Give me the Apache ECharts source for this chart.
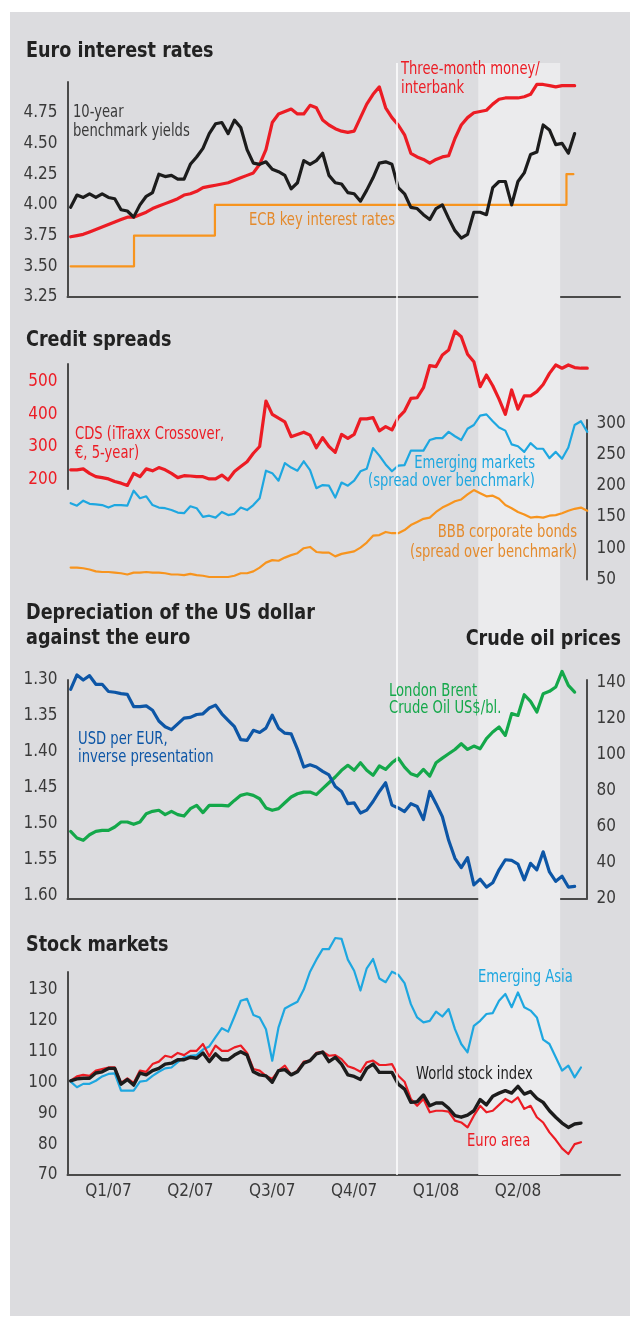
<!DOCTYPE html>
<html><head><meta charset="utf-8">
<script src="https://cdn.jsdelivr.net/npm/echarts@6/dist/echarts.min.js"></script>
<style>
html,body{margin:0;padding:0;background:#fff;}
#bg{position:absolute;left:10px;top:12px;width:620px;height:1304px;background:#dcdcdf;}
#chart{position:absolute;left:0;top:0;width:633px;height:1323px;}
</style></head><body>
<div id="bg"></div><div id="chart"></div>
<script>
// ---------- DATA (weekly, first point = week 0.5 of 2007) ----------
const quarterLabels = ['Q1/07','Q2/07','Q3/07','Q4/07','Q1/08','Q2/08'];
const yearBoundaryWeek = 52.2;
const bandStartWeek = 65.2, bandEndWeek = 78.2;

const rateTicks = [3.25,3.5,3.75,4.0,4.25,4.5,4.75];
const tenYearYield = [3.98,4.08,4.06,4.09,4.06,4.09,4.06,4.05,3.96,3.95,3.90,4.00,4.07,4.10,4.25,4.23,4.24,4.21,4.21,4.33,4.39,4.46,4.58,4.66,4.67,4.58,4.69,4.63,4.45,4.34,4.33,4.35,4.29,4.27,4.24,4.13,4.18,4.36,4.33,4.36,4.42,4.24,4.18,4.17,4.10,4.09,4.03,4.12,4.22,4.34,4.35,4.33,4.14,4.09,3.98,3.97,3.92,3.88,3.97,4.00,3.89,3.79,3.73,3.76,3.94,3.94,3.92,4.14,4.19,4.19,4.00,4.19,4.26,4.41,4.43,4.65,4.61,4.49,4.50,4.42,4.58];
const threeMonth = [3.74,3.75,3.76,3.78,3.80,3.82,3.84,3.86,3.88,3.90,3.90,3.92,3.94,3.97,3.99,4.01,4.03,4.05,4.08,4.09,4.11,4.14,4.15,4.16,4.17,4.18,4.20,4.22,4.24,4.26,4.33,4.45,4.67,4.74,4.76,4.78,4.74,4.74,4.81,4.79,4.69,4.65,4.62,4.60,4.59,4.60,4.71,4.82,4.90,4.96,4.79,4.71,4.65,4.57,4.42,4.39,4.37,4.34,4.37,4.39,4.40,4.54,4.65,4.71,4.75,4.76,4.77,4.82,4.86,4.87,4.87,4.87,4.88,4.90,4.98,4.98,4.97,4.96,4.97,4.97,4.97];
const ecbWeeks = [0.5,10.56,23.4,79.2,80.3];
const ecbRates = [3.50,3.75,4.00,4.25,4.25];

const cdsTicks = [200,300,400,500];
const spreadTicks = [50,100,150,200,250,300];
const cdsCrossover = [229,229,232,218,208,205,201,193,188,181,218,208,232,226,236,229,218,205,211,210,208,208,201,201,213,198,224,239,254,280,301,441,400,388,377,331,338,345,336,297,328,301,283,338,326,338,386,386,390,349,362,352,390,410,449,451,482,550,547,583,598,656,639,585,562,485,521,488,447,400,475,416,457,457,470,492,526,552,542,552,544,542,542];
const emergingSpread = [172,168,176,171,170,169,165,169,169,168,192,180,183,169,165,164,161,157,156,167,164,150,152,149,158,153,155,165,161,169,180,224,220,208,236,229,224,239,225,196,201,200,181,205,200,208,223,227,260,248,234,223,232,233,256,256,256,273,276,276,286,279,273,291,297,312,314,303,293,288,266,263,254,268,259,259,244,254,243,261,297,303,286];
const bbbSpread = [69,69,68,66,63,62,62,61,60,58,61,61,62,61,61,60,58,58,57,59,57,56,54,54,54,54,56,60,60,63,69,77,81,80,85,89,92,100,102,94,93,93,87,91,93,95,101,109,120,121,126,124,124,129,137,142,147,149,158,165,170,175,178,186,193,188,183,184,179,169,164,158,154,149,150,149,152,153,156,160,163,165,160];

const usdTicks = [1.30,1.35,1.40,1.45,1.50,1.55,1.60];
const oilTicks = [20,40,60,80,100,120,140];
const usdPerEur = [1.313,1.293,1.300,1.294,1.306,1.306,1.316,1.317,1.319,1.320,1.337,1.337,1.336,1.342,1.357,1.365,1.369,1.361,1.353,1.352,1.348,1.347,1.339,1.335,1.347,1.356,1.365,1.383,1.384,1.370,1.373,1.367,1.349,1.367,1.374,1.375,1.396,1.421,1.418,1.421,1.427,1.432,1.448,1.455,1.472,1.471,1.485,1.481,1.469,1.455,1.443,1.474,1.478,1.483,1.472,1.476,1.494,1.455,1.472,1.490,1.523,1.548,1.561,1.547,1.585,1.577,1.588,1.582,1.564,1.550,1.551,1.556,1.578,1.555,1.564,1.539,1.567,1.580,1.573,1.588,1.587];
const brentOil = [57.6,53.9,52.6,55.7,57.6,58.1,58.1,60.0,62.8,62.8,61.5,62.8,67.4,68.7,69.3,66.9,68.7,66.9,66.1,70.2,72.0,68.0,72.0,72.0,72.0,71.7,74.8,77.6,78.5,77.6,75.7,70.6,69.3,70.2,73.5,76.7,78.5,79.4,79.4,78.0,81.3,84.6,87.8,91.5,94.3,91.5,95.7,91.5,88.7,93.9,92.0,95.7,98.3,93.3,89.6,88.3,92.0,88.3,95.7,98.3,100.7,103.1,106.3,103.1,105.0,103.5,109.1,112.8,115.6,110.9,123.0,122.0,133.5,129.8,123.9,134.1,135.4,137.8,146.5,138.7,135.0];

const stockTicks = [70,80,90,100,110,120,130];
const worldStocks = [100.5,101.1,101.3,101.3,103.0,103.4,104.5,104.5,99.4,100.9,99.1,103.0,102.4,103.8,104.5,105.9,106.2,107.3,107.3,108.1,107.8,109.5,106.7,109.2,107.3,107.3,108.8,109.9,108.8,103.4,102.4,102.1,100.0,103.8,104.1,102.4,103.4,106.2,107.0,109.2,109.8,106.7,108.1,105.9,102.4,101.9,100.9,104.5,105.9,103.2,103.2,103.2,99.4,97.8,93.5,93.7,95.9,92.4,93.3,93.3,91.6,89.2,88.7,89.4,90.8,94.4,92.7,95.5,96.5,97.3,96.5,98.7,96.2,97.0,94.8,93.5,90.8,88.7,86.8,85.4,86.5,86.8];
const euroArea = [100.5,101.9,102.4,102.1,103.8,104.3,104.8,104.8,99.8,101.3,99.8,103.8,103.4,105.9,106.7,108.6,108.1,109.5,108.8,110.2,110.2,112.4,108.4,111.9,110.2,110.2,111.3,111.9,109.5,104.3,103.8,102.1,101.1,103.8,105.4,102.4,103.8,106.7,107.0,109.5,109.9,108.6,108.8,107.5,105.2,104.5,103.4,106.5,107.0,105.6,105.6,105.9,102.1,100.2,94.6,92.4,94.6,90.3,90.8,90.8,90.5,87.6,87.0,85.4,89.2,92.4,90.3,90.8,92.7,94.6,93.5,95.1,91.4,92.4,88.7,87.0,83.8,81.4,78.6,76.8,80.0,80.6];
const emergingAsia = [100.2,98.4,99.5,99.5,100.5,101.9,102.7,102.9,97.3,97.3,97.3,100.2,100.5,102.1,103.4,104.5,104.8,106.5,108.1,108.6,108.8,110.6,111.6,114.6,117.5,116.4,121.3,126.4,127.0,121.8,121.0,117.2,107.0,117.8,123.9,125.0,126.1,130.0,135.8,139.7,143.1,143.1,146.7,146.4,139.7,136.1,129.7,136.9,139.9,133.6,132.4,135.8,134.8,132.1,125.3,121.0,119.4,119.9,122.9,121.3,123.7,117.2,112.4,109.7,118.3,119.9,122.1,122.4,126.4,128.6,124.3,129.1,124.3,123.2,121.0,113.8,112.4,108.1,103.8,105.4,101.6,104.8];

// ---------- STYLE ----------
const FONT = "'Liberation Sans Narrow','DejaVu Sans Condensed','Arial Narrow',sans-serif";
const RED='#ec1c24', BLACK='#1c1c1c', ORANGE='#f7941e', CYAN='#1ea7e0', NAVY='#0d56a6', GREEN='#14a84a';
const AXIS='#4a4a4a', TXT='#3a3a3a', ORANGE_TXT='#e48a2c';
const X0 = 67.5, PXW = 6.3, WFULL = 552.5, WNARROW = 519;

const chart = echarts.init(document.getElementById('chart'), null, {renderer:'canvas'});

function grid(top, height, width){ return {left:X0, top, width, height, containLabel:false, outerBoundsMode:'none'}; }
function xAx(gi, width, showLine, labels){
  return {type:'value', gridIndex:gi, min:0, max:width/PXW,
    axisLine:{show:showLine, onZero:false, lineStyle:{color:AXIS,width:2}},
    axisTick:{show:false}, splitLine:{show:false},
    axisLabel: labels ? {show:true, customValues: quarterLabels.map((q,i)=>6.5+13*i),
      formatter:(v)=>quarterLabels[Math.round((v-6.5)/13)] || '', color:TXT, fontSize:17, fontFamily:FONT, margin:8}
      : {show:false}};
}
function yAx(gi, min, max, ticks, opts){
  opts = opts || {};
  return {type:'value', gridIndex:gi, min, max, inverse:!!opts.inverse, position:opts.position||'left',
    axisLine:{show:opts.line!==false, onZero:false, lineStyle:{color:AXIS,width:2}},
    axisTick:{show:false}, splitLine:{show:false},
    axisLabel:{show:!!ticks, customValues:ticks||[], formatter:(v)=> opts.dec!=null ? v.toFixed(opts.dec) : String(v),
      color:opts.color||TXT, fontSize:17, fontFamily:FONT, margin:opts.margin||10}};
}
function weekly(vals){ return vals.map((v,i)=>[i+0.5, v]); }
function line(xi, yi, data, color, width, z, extra){
  return Object.assign({type:'line', xAxisIndex:xi, yAxisIndex:yi, data, symbol:'none', clip:false, silent:true,
    animation:false, z:z||2, lineStyle:{color, width, join:'round', cap:'round'}}, extra||{});
}
function txt(x, y, text, color, size, weight, align, sx){
  return {type:'text', x, y, z:10, silent:true, scaleX: sx || 0.86, scaleY:1,
    style:{text, fill:color, font:`${weight||'normal'} ${size}px ${FONT}`,
      textAlign:align||'left', textVerticalAlign:'middle', align:align||'left', verticalAlign:'middle'}};
}
function title(x, y, text, align){ return txt(x, y, text, '#222', 22, 'bold', align, 0.89); }

const option = {
  animation:false,
  backgroundColor:'transparent',
  grid:[
    grid(63, 1112, WFULL),   // 0 background band
    grid(82, 215, WFULL),    // 1 euro rates
    grid(364, 125, WNARROW), // 2 CDS
    grid(420, 159.5, WNARROW), // 3 spreads right
    grid(680, 219, WNARROW), // 4 dollar/oil
    grid(972, 203, WFULL)    // 5 stocks
  ],
  xAxis:[
    xAx(0, WFULL, false, false),
    xAx(1, WFULL, true, false),
    xAx(2, WNARROW, false, false),
    xAx(3, WNARROW, false, false),
    xAx(4, WNARROW, true, false),
    xAx(5, WFULL, true, true)
  ],
  yAxis:[
    yAx(0, 0, 1, null, {line:false}),
    yAx(1, 3.25, 5.0, rateTicks, {dec:2}),
    yAx(2, 170, 555, cdsTicks, {color:RED}),
    yAx(3, 50, 305, spreadTicks, {position:'right', margin:10}),
    yAx(4, 1.30, 1.6046, usdTicks, {dec:2, inverse:true}),
    yAx(4, 20, 141.7, oilTicks, {position:'right', margin:10}),
    yAx(5, 70, 135.7, stockTicks)
  ],
  series:[
    {type:'line', xAxisIndex:0, yAxisIndex:0, data:[[0,0]], symbol:'none', silent:true, z:0,
      lineStyle:{opacity:0},
      markArea:{silent:true, itemStyle:{color:'#ebebed'}, data:[[{xAxis:bandStartWeek},{xAxis:bandEndWeek}]]},
      markLine:{silent:true, symbol:'none', label:{show:false}, lineStyle:{color:'#ffffff', width:1.5, type:'solid'},
        data:[{xAxis:yearBoundaryWeek}]}},
    // panel 1
    line(1,1, ecbWeeks.map((w,i)=>[w, ecbRates[i]]), ORANGE, 2.2, 2, {step:'end'}),
    line(1,1, weekly(threeMonth), RED, 3.2, 3),
    line(1,1, weekly(tenYearYield), BLACK, 3.2, 4),
    // panel 2
    line(3,3, weekly(bbbSpread), ORANGE, 2.2, 2),
    line(3,3, weekly(emergingSpread), CYAN, 2.2, 3),
    line(2,2, weekly(cdsCrossover), RED, 3.2, 4),
    // panel 3
    line(4,5, weekly(brentOil), GREEN, 3.2, 3),
    line(4,4, weekly(usdPerEur), NAVY, 3.2, 4),
    // panel 4
    line(5,6, weekly(emergingAsia), CYAN, 2.2, 2),
    line(5,6, weekly(euroArea), RED, 2.2, 3),
    line(5,6, weekly(worldStocks), BLACK, 3.4, 4)
  ],
  graphic:[
    title(26, 51, 'Euro interest rates'),
    title(26, 340, 'Credit spreads'),
    title(26, 613, 'Depreciation of the US dollar'),
    title(26, 638, 'against the euro'),
    title(621, 639, 'Crude oil prices', 'right'),
    title(26, 945, 'Stock markets'),

    txt(73, 113, '10-year', TXT, 17),
    txt(73, 132, 'benchmark yields', TXT, 17),
    txt(401, 70, 'Three-month money/', RED, 17),
    txt(401, 89, 'interbank', RED, 17),
    txt(249, 221, 'ECB key interest rates', ORANGE_TXT, 17),

    txt(75, 435, 'CDS (iTraxx Crossover,', RED, 17),
    txt(75, 454, '€, 5-year)', RED, 17),
    txt(535, 464, 'Emerging markets', CYAN, 17, 'normal', 'right'),
    txt(535, 482, '(spread over benchmark)', CYAN, 17, 'normal', 'right'),
    txt(577, 533, 'BBB corporate bonds', ORANGE_TXT, 17, 'normal', 'right'),
    txt(577, 553, '(spread over benchmark)', ORANGE_TXT, 17, 'normal', 'right'),

    txt(78, 740, 'USD per EUR,', NAVY, 17),
    txt(78, 758, 'inverse presentation', NAVY, 17),
    txt(389, 692, 'London Brent', GREEN, 17),
    txt(389, 709, 'Crude Oil US$/bl.', GREEN, 17),

    txt(478, 978, 'Emerging Asia', CYAN, 17),
    txt(416, 1075, 'World stock index', BLACK, 17),
    txt(467, 1142, 'Euro area', RED, 17)
  ]
};
chart.setOption(option);
</script></body></html>
